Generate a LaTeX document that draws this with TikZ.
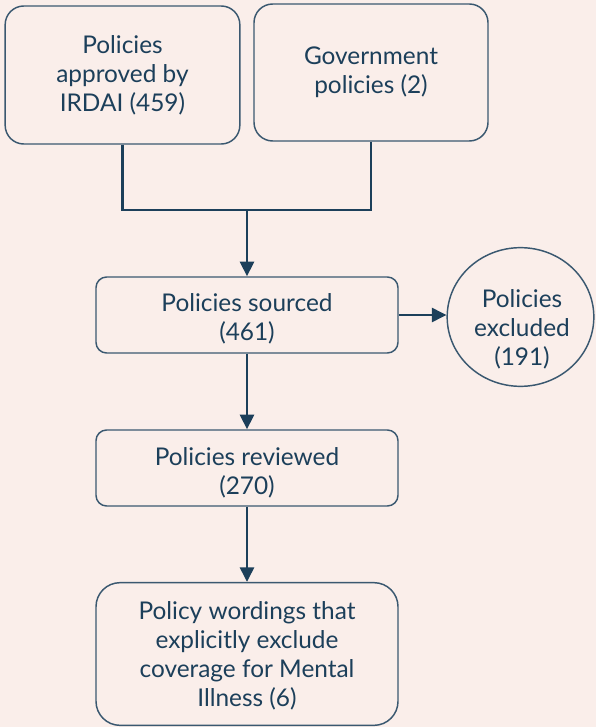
\documentclass[tikz,border=0pt]{standalone}
\usepackage{fontspec}
\setmainfont{Lato}
\usetikzlibrary{arrows.meta,shapes.geometric}
\definecolor{bg}{HTML}{FAEEEA}
\definecolor{navy}{HTML}{1C3F5A}
\definecolor{edge}{HTML}{3A5870}
\begin{document}
\begin{tikzpicture}[x=0.75pt,y=-0.75pt,
  txt/.style={text=navy,align=center,inner sep=0pt,font=\fontsize{18.3}{21.75}\selectfont},
  box/.style={draw=edge,line width=1.1pt,rounded corners=#1,txt},
  box/.default=10pt,
  conn/.style={draw=navy,line width=2.2pt},
  arr/.style={conn,-{Triangle[length=11pt,width=10.5pt]}}]
\fill[bg] (0,0) rectangle (596,727);
\useasboundingbox (0,0) rectangle (596,727);
\node[box=14pt,minimum width=176pt,minimum height=103.5pt] (a) at (122.5,75) {Policies\\approved by\\IRDAI (459)};
\node[box=14pt,minimum width=175.5pt,minimum height=102.75pt] (b) at (371,72.5) {Government\\policies (2)};
\node[box=8pt,minimum width=226.5pt,minimum height=57pt] (c) at (247,315) {};
\node[txt] (ct) at (247,318.5) {Policies sourced\\(461)};
\node[box=8pt,minimum width=226.5pt,minimum height=57pt] (d) at (247,468) {};
\node[txt] (dt) at (247,473) {Policies reviewed\\(270)};
\node[box=18pt,minimum width=226.5pt,minimum height=107pt] (e) at (247,654) {};
\node[txt] (et) at (247,656) {Policy wordings that\\explicitly exclude\\coverage for Mental\\Illness (6)};
\node[ellipse,draw=edge,line width=1.1pt,inner sep=0pt,minimum width=110pt,minimum height=104pt] (f) at (520.5,317) {};
\node[txt] (ft) at (522,329) {Policies\\excluded\\(191)};
\coordinate (j) at (247,210);
\draw[conn] (a.south) |- (j);
\draw[conn] (b.south) |- (j);
\draw[arr] (j) -- (c.north);
\draw[arr] (c.east) -- (c.east -| f.west);
\draw[arr] (c.south) -- (d.north);
\draw[arr] (d.south) -- (e.north);
\end{tikzpicture}
\end{document}
